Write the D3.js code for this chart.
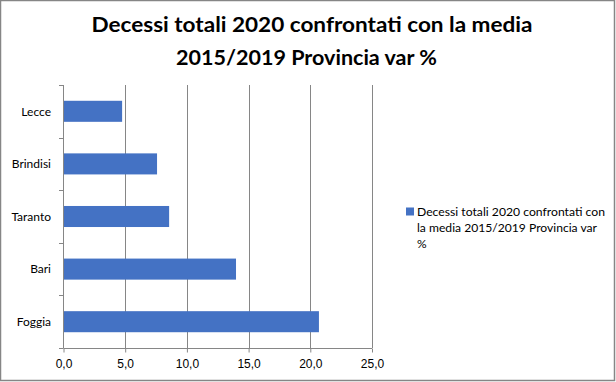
<!DOCTYPE html>
<html>
<head>
<meta charset="utf-8">
<script src="https://cdn.jsdelivr.net/npm/d3@7"></script>
<style>
  body { margin: 0; background: #fff; }
  svg { display: block; font-family: Lato, "Open Sans", sans-serif; }
</style>
</head>
<body>
<div id="chart"></div>
<script>
// data
const provinces = ["Lecce", "Brindisi", "Taranto", "Bari", "Foggia"];
const varPct = [4.75, 7.58, 8.56, 13.98, 20.7];
const xTicks = [0, 5, 10, 15, 20, 25];
const titleLines = ["Decessi totali 2020 confrontati con la media", "2015/2019  Provincia var %"];
const legendLines = ["Decessi totali 2020 confrontati con", "la media 2015/2019 Provincia var", "%"];

const W = 616, H = 382;
const grey = "#868686", blue = "#4472C4";

const svg = d3.select("#chart").append("svg")
  .attr("width", W)
  .attr("height", H);

// outer frame
svg.append("rect")
  .attr("x", 0.5).attr("y", 0.5)
  .attr("width", W - 2).attr("height", H - 2)
  .attr("fill", "#fff")
  .attr("stroke", grey)
  .attr("stroke-width", 1.5);

// title
const titleW = [441, 261];
svg.selectAll(".title")
  .data(titleLines)
  .enter().append("text")
  .attr("class", "title")
  .attr("x", (d, i) => i === 0 ? 91.5 : 176)
  .attr("y", (d, i) => 32 + i * 32.5)
  .attr("textLength", (d, i) => titleW[i])
  .attr("lengthAdjust", "spacingAndGlyphs")
  .style("font-size", "20px")
  .style("font-weight", "bold")
  .text(d => d);

const x = d3.scaleLinear().domain([0, 25]).range([63.5, 372]);
const y = d3.scaleBand().domain(provinces).range([85, 348])
  .paddingInner(0.6).paddingOuter(0.3);

// vertical gridlines
svg.selectAll(".grid")
  .data(xTicks.slice(1))
  .enter().append("line")
  .attr("x1", d => Math.round(x(d)) + 0.5).attr("x2", d => Math.round(x(d)) + 0.5)
  .attr("y1", 85).attr("y2", 348)
  .attr("stroke", grey);

// bars
svg.selectAll(".bar")
  .data(provinces)
  .enter().append("rect")
  .attr("class", "bar")
  .attr("x", x(0))
  .attr("y", d => y(d))
  .attr("width", (d, i) => x(varPct[i]) - x(0))
  .attr("height", y.bandwidth())
  .attr("fill", blue);

// x axis
const xAxis = svg.append("g")
  .attr("transform", "translate(0,348.5)")
  .call(d3.axisBottom(x).tickValues(xTicks).tickSize(4).tickPadding(7)
    .tickFormat(d => d3.format(".1f")(d).replace(".", ",")));
xAxis.select(".domain").attr("stroke", grey).attr("d", `M${x(0)},0H${x(25)}`);
xAxis.selectAll(".tick line").attr("stroke", grey);
xAxis.selectAll("text").style("font-size", "12px").attr("fill", "#000");

// y axis: ticks at band boundaries
const yLeft = svg.append("g");
yLeft.append("line")
  .attr("x1", 63.5).attr("x2", 63.5).attr("y1", 85).attr("y2", 348)
  .attr("stroke", grey);
const step = y.step();
yLeft.selectAll(".ytick")
  .data(d3.range(provinces.length + 1))
  .enter().append("line")
  .attr("x1", 59).attr("x2", 63.5)
  .attr("y1", i => Math.round(85 + i * step) + 0.5)
  .attr("y2", i => Math.round(85 + i * step) + 0.5)
  .attr("stroke", grey);
yLeft.selectAll(".ylab")
  .data(provinces)
  .enter().append("text")
  .attr("x", 51)
  .attr("y", d => y(d) + y.bandwidth() / 2)
  .attr("dy", "0.35em")
  .attr("text-anchor", "end")
  .style("font-size", "12px")
  .text(d => d);

// legend
svg.append("rect")
  .attr("x", 406).attr("y", 207.5)
  .attr("width", 8).attr("height", 8)
  .attr("fill", blue);
const legW = [188, 180, null];
svg.selectAll(".leg")
  .data(legendLines)
  .enter().append("text")
  .attr("x", 417)
  .attr("y", (d, i) => 215.5 + i * 16)
  .attr("textLength", (d, i) => legW[i])
  .attr("lengthAdjust", "spacingAndGlyphs")
  .style("font-size", "12px")
  .text(d => d);
</script>
</body>
</html>
